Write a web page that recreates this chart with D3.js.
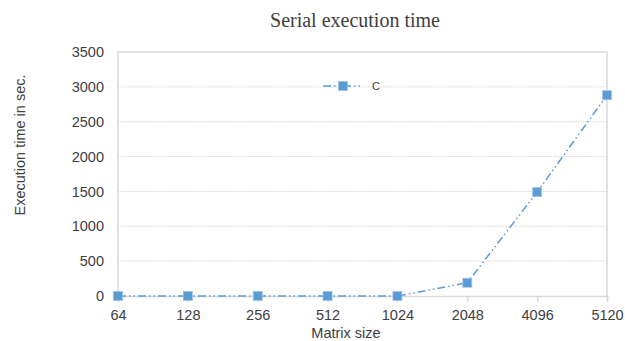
<!DOCTYPE html>
<html>
<head>
<meta charset="utf-8">
<script src="https://cdn.jsdelivr.net/npm/d3@7"></script>
<style>
  body { margin: 0; background: #fff; }
  text { font-family: "Liberation Sans", Arial, sans-serif; fill: #404040; }
  .grid line { stroke: #d9d9d9; stroke-dasharray: 1.5,1; }
</style>
</head>
<body>
<script>
const sizes = ["64", "128", "256", "512", "1024", "2048", "4096", "5120"];
const times = [0, 0, 0, 0, 0, 190, 1490, 2880];
const yTicks = [0, 500, 1000, 1500, 2000, 2500, 3000, 3500];
const seriesName = "C";

const width = 625, height = 341;
const margin = {top: 52, right: 18, bottom: 45, left: 118};
const w = width - margin.left - margin.right
    , h = height - margin.top - margin.bottom;
const blue = "#5b9bd5";
const fs = "14.5px";

const data = sizes.map((s, i) => ({size: s, value: times[i]}));

var svg = d3.select("body").append("svg")
    .attr("width", width)
    .attr("height", height);

var x = d3.scalePoint()
    .domain(sizes)
    .range([0, w]);
var y = d3.scaleLinear()
    .domain([0, 3500])
    .range([h, 0]);

var g = svg.append("g")
    .attr("transform", "translate(" + margin.left + "," + margin.top + ")");

// gridlines
g.append("g")
    .attr("class", "grid")
    .selectAll("line")
    .data(yTicks.filter(t => t > 0 && t < 3500))
    .enter().append("line")
    .attr("x1", 0).attr("x2", w)
    .attr("y1", d => y(d)).attr("y2", d => y(d));

// plot frame (top, left, right)
g.append("path")
    .attr("d", "M0," + h + "V0H" + w + "V" + h)
    .attr("fill", "none")
    .attr("stroke", "#d9d9d9")
    .attr("stroke-width", 1.5);

// y axis labels
var yAxis = d3.axisLeft(y).tickValues(yTicks).tickFormat(d3.format("d")).tickSize(0).tickPadding(14);
g.append("g")
    .call(yAxis)
    .call(a => a.select(".domain").remove())
    .selectAll("text")
    .style("font-size", fs)
    .attr("fill", "#404040");

// x axis
var xAxis = d3.axisBottom(x).tickSize(6).tickPadding(8);
var xg = g.append("g")
    .attr("transform", "translate(0," + h + ")")
    .call(xAxis);
xg.select(".domain").attr("stroke", "#d9d9d9").attr("stroke-width", 1.5);
xg.selectAll(".tick line").attr("stroke", "#d9d9d9").attr("stroke-width", 1.5);
xg.selectAll("text")
    .style("font-size", fs)
    .attr("fill", "#404040");

// line
var line = d3.line()
    .x(d => x(d.size))
    .y(d => y(d.value));

g.append("path")
    .datum(data)
    .attr("fill", "none")
    .attr("stroke", blue)
    .attr("stroke-width", 1.5)
    .attr("stroke-dasharray", "8,3,1.5,3,1.5,3")
    .attr("d", line);

g.selectAll(".pt")
    .data(data)
    .enter().append("rect")
    .attr("class", "pt")
    .attr("x", d => x(d.size) - 4.5)
    .attr("y", d => y(d.value) - 4.5)
    .attr("width", 9)
    .attr("height", 9)
    .attr("fill", blue)
    .attr("stroke", "#9dc3e6")
    .attr("stroke-width", 0.8);

// legend
var leg = svg.append("g").attr("transform", "translate(323,86)");
leg.append("line")
    .attr("x1", 0).attr("x2", 40)
    .attr("y1", 0).attr("y2", 0)
    .attr("stroke", blue)
    .attr("stroke-width", 1.5)
    .attr("stroke-dasharray", "8,3,1.5,3,1.5,3");
leg.append("rect")
    .attr("x", 15.5).attr("y", -4.5)
    .attr("width", 9).attr("height", 9)
    .attr("fill", blue)
    .attr("stroke", "#9dc3e6")
    .attr("stroke-width", 0.8);
leg.append("text")
    .attr("x", 49).attr("y", 4)
    .style("font-size", "11px")
    .text(seriesName);

// title
svg.append("text")
    .attr("x", 355).attr("y", 27)
    .attr("text-anchor", "middle")
    .style("font-family", "'Liberation Serif', 'Times New Roman', serif")
    .style("font-size", "20px")
    .attr("fill", "#000")
    .text("Serial execution time");

// axis titles
svg.append("text")
    .attr("transform", "translate(25," + 145 + ") rotate(-90)")
    .attr("text-anchor", "middle")
    .style("font-size", fs)
    .text("Execution time in sec.");

svg.append("text")
    .attr("x", 346).attr("y", 338)
    .attr("text-anchor", "middle")
    .style("font-size", fs)
    .text("Matrix size");
</script>
</body>
</html>
